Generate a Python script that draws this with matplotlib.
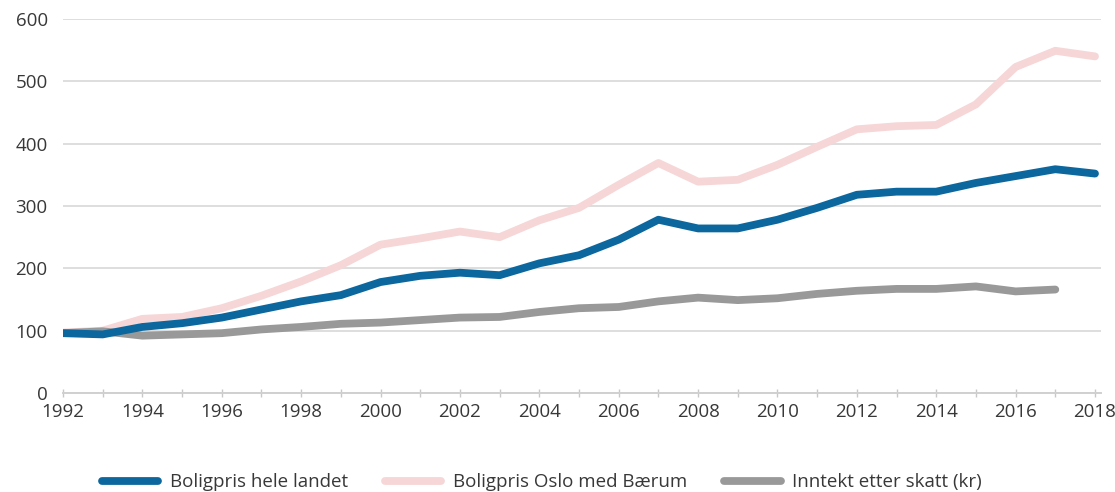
import matplotlib
matplotlib.use("Agg")
import matplotlib.pyplot as plt
from matplotlib.ticker import MultipleLocator

plt.rcParams['font.family'] = ['Open Sans', 'DejaVu Sans']

years = list(range(1992, 2019))
hele_landet = [96, 94, 106, 112, 121, 134, 147, 157, 178, 188, 193, 189, 208, 221, 246, 278, 264, 264, 278, 297,
               318, 323, 323, 337, 348, 359, 352]
oslo_baerum = [97, 100, 119, 122, 136, 156, 179, 205, 238, 248, 259, 250, 277, 297, 334, 369, 339, 342, 366, 395,
               423, 428, 430, 463, 523, 549, 540]
inntekt_years = list(range(1992, 2018))
inntekt = [96, 99, 92, 94, 96, 102, 106, 111, 113, 117, 121, 122, 130, 136, 138, 147, 153, 149, 152, 159,
           164, 167, 167, 171, 163, 166]

series_labels = ["Boligpris hele landet", "Boligpris Oslo med Bærum", "Inntekt etter skatt (kr)"]
colors = ["#0b679e", "#f6d6d6", "#999999"]

fig = plt.figure(figsize=(11.15, 4.92), dpi=100)
ax = fig.add_axes([0.0565, 0.2012, 0.9309, 0.7602])

lw = 5.6
ax.plot(years, oslo_baerum, color=colors[1], lw=lw, solid_capstyle='round', solid_joinstyle='round',
        label=series_labels[1], zorder=3)
ax.plot(inntekt_years, inntekt, color=colors[2], lw=lw, solid_capstyle='round', solid_joinstyle='round',
        label=series_labels[2], zorder=3)
ax.plot(years, hele_landet, color=colors[0], lw=lw, solid_capstyle='round', solid_joinstyle='round',
        label=series_labels[0], zorder=4)

ax.set_xlim(1992, 2018.15)
ax.set_ylim(0, 600)
ax.yaxis.set_major_locator(MultipleLocator(100))
ax.xaxis.set_major_locator(MultipleLocator(2))
ax.xaxis.set_minor_locator(MultipleLocator(1))

ax.grid(axis='y', color='#dedede', lw=1.4, zorder=0)
ax.set_axisbelow(True)
for side in ['top', 'right', 'left']:
    ax.spines[side].set_visible(False)
ax.spines['bottom'].set_color('#d0d0d0')
ax.spines['bottom'].set_linewidth(1.4)

ax.tick_params(axis='y', length=0, pad=11, labelsize=13.5, labelcolor='#383838')
ax.tick_params(axis='x', which='both', direction='inout', length=6, width=1, color='#c8c8c8',
               pad=4, labelsize=13.5, labelcolor='#383838')

handles, labels = ax.get_legend_handles_labels()
order = [2, 0, 1]
leg = fig.legend([handles[i] for i in order], [labels[i] for i in order], loc='center',
                 bbox_to_anchor=(0.486, 0.02), ncol=3, frameon=False, fontsize=13.5,
                 handlelength=3.0, handletextpad=0.6, columnspacing=2.0)
for t in leg.get_texts():
    t.set_color('#383838')

fig.savefig("out.png", dpi=100)
